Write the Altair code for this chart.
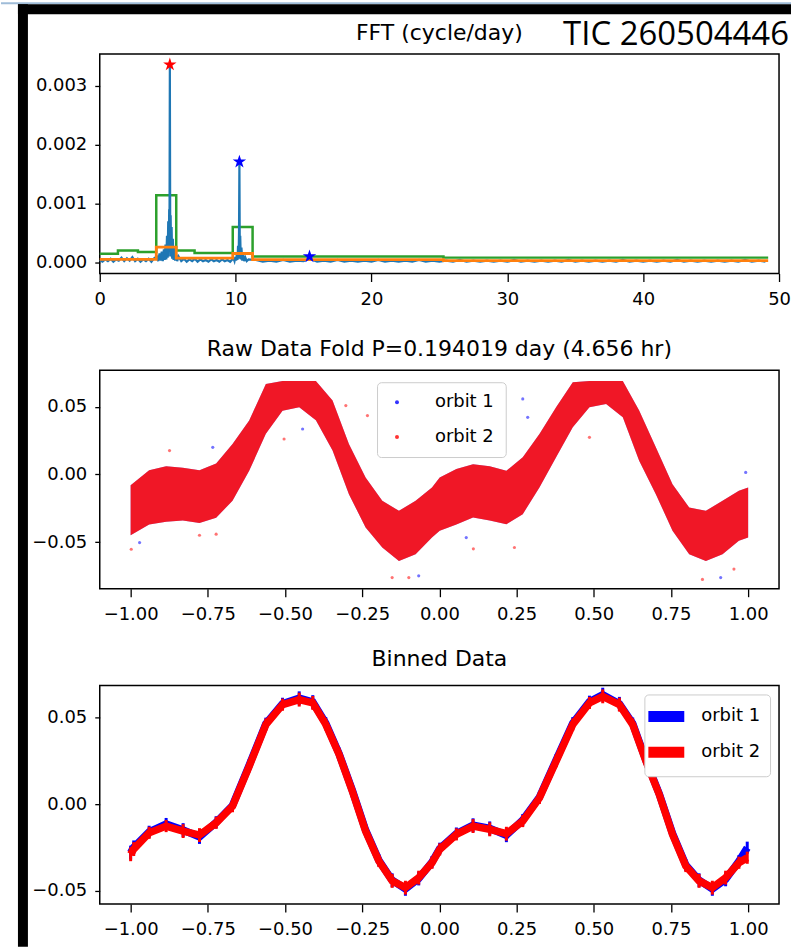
import altair as alt
import pandas as pd

# ---------------- FFT panel data ----------------
fft_freq = [0.0, 0.2, 0.4, 0.6, 0.8, 1.0, 1.2, 1.4, 1.6, 1.8, 2.0, 2.2, 2.4, 2.6, 2.8, 3.0, 3.2, 3.4, 3.6, 3.8, 4.0,
            4.20, 4.30, 4.40, 4.48, 4.56, 4.64, 4.72, 4.78, 4.84, 4.90, 4.95, 5.00, 5.04, 5.08, 5.11, 5.13, 5.16, 5.19,
            5.22, 5.25, 5.29, 5.33, 5.38, 5.43, 5.49, 5.55, 5.62, 5.70, 5.80,
            6.0, 6.2, 6.4, 6.6, 6.8, 7.0, 7.2, 7.4, 7.6, 7.8, 8.0, 8.2, 8.4, 8.6, 8.8, 9.0, 9.2, 9.4, 9.6, 9.8,
            9.86, 9.92, 9.98, 10.04, 10.09, 10.14, 10.18, 10.22, 10.25, 10.28, 10.31, 10.34, 10.38, 10.43, 10.49,
            10.56, 10.63, 10.72, 10.82, 10.95,
            11.5, 12.0, 12.5, 13.0, 13.5, 14.0, 14.5, 15.0, 15.45, 16.0, 16.5, 17.0, 17.5, 18.0, 18.5, 19.0, 19.5,
            20.0, 20.5, 21.0, 21.5, 22.0, 22.5, 23.0, 23.5, 24.0, 24.5, 25.0, 25.5, 26.0, 26.5, 27.0, 27.5, 28.0,
            28.5, 29.0, 29.5, 30.0, 30.5, 31.0, 31.5, 32.0, 32.5, 33.0, 33.5, 34.0, 34.5, 35.0, 35.5, 36.0, 36.5,
            37.0, 37.5, 38.0, 38.5, 39.0, 39.5, 40.0, 40.5, 41.0, 41.5, 42.0, 42.5, 43.0, 43.5, 44.0, 44.5, 45.0,
            45.5, 46.0, 46.5, 47.0, 47.5, 48.0, 48.5, 49.0]
fft_power = [4e-5, 1e-5, 5e-5, 2e-5, 6e-5, 1e-5, 5e-5, 3e-5, 8e-5, 2e-5, 7e-5, 3e-5, 9e-5, 2e-5, 6e-5, 1e-5, 5e-5,
             2e-5, 6e-5, 1e-5, 7e-5,
             1.0e-4, 2e-5, 1.5e-4, 3e-5, 1.8e-4, 2e-5, 2.2e-4, 4e-5, 3.0e-4, 5e-5, 4.5e-4, 8e-5, 7.0e-4, 1.0e-4,
             9.0e-4, 2.0e-4, 3.36e-3, 2.0e-4, 8.0e-4, 1.0e-4, 6.0e-4, 6e-5, 4.0e-4, 4e-5, 2.5e-4, 3e-5, 1.5e-4,
             2e-5, 1.0e-4,
             2e-5, 6e-5, 1e-5, 5e-5, 2e-5, 6e-5, 1e-5, 5e-5, 2e-5, 4e-5, 1e-5, 5e-5, 2e-5, 4e-5, 1e-5, 5e-5, 2e-5,
             4e-5, 1e-5, 6e-5,
             6e-5, 2e-5, 9e-5, 3e-5, 1.5e-4, 4e-5, 2.8e-4, 6e-5, 5.0e-4, 1.71e-3, 1.0e-4, 4.5e-4, 5e-5, 2.5e-4,
             3e-5, 1.4e-4, 2e-5, 8e-5, 2e-5, 5e-5,
             4e-5, 1e-5, 3e-5, 1e-5, 4e-5, 1e-5, 3e-5, 2e-5, 6e-5, 1e-5, 3e-5, 1e-5, 4e-5, 1e-5, 3e-5, 1e-5, 3e-5,
             1e-5, 4e-5, 1e-5, 3e-5, 1e-5, 3e-5, 1e-5, 4e-5, 1e-5, 3e-5, 1e-5, 3e-5, 1e-5, 4e-5, 1e-5, 3e-5, 1e-5,
             3e-5, 1e-5, 3e-5, 1e-5, 4e-5, 1e-5, 3e-5, 1e-5, 3e-5, 1e-5, 3e-5, 1e-5, 4e-5, 1e-5, 3e-5, 1e-5, 3e-5,
             1e-5, 3e-5, 1e-5, 4e-5, 1e-5, 3e-5, 1e-5, 3e-5, 1e-5, 3e-5, 1e-5, 4e-5, 1e-5, 3e-5, 1e-5, 3e-5, 1e-5,
             3e-5, 1e-5, 3e-5, 1e-5, 4e-5, 1e-5, 3e-5, 1e-5]

green_edges = [0.0, 1.34, 2.81, 4.16, 5.63, 6.98, 9.79, 11.25, 25.3, 49.2]
green_levels = [0.000147, 0.0002, 0.000175, 0.00114, 0.0002, 0.000158, 0.0006, 0.0001, 0.00008, 0.00008]
orange_edges = [0.0, 4.16, 5.63, 9.79, 11.25, 25.3, 49.2]
orange_levels = [0.00005, 0.00026, 0.00007, 0.00015, 0.000045, 0.00003, 0.00003]

star_freq = [5.16, 10.28, 15.44]
star_power = [0.00336, 0.00171, 0.0001]
star_kind = ["peak", "harmonic", "harmonic"]

# ---------------- Raw folded data ----------------
raw_phase = [-1.0, -0.94, -0.885, -0.831, -0.777, -0.723, -0.67, -0.616, -0.562, -0.508, -0.454, -0.4, -0.346,
             -0.293, -0.239, -0.185, -0.131, -0.077, -0.024, 0.001, 0.055, 0.109, 0.163, 0.217, 0.27, 0.324,
             0.378, 0.432, 0.486, 0.54, 0.594, 0.647, 0.701, 0.755, 0.809, 0.863, 0.917, 0.97, 1.0]
raw_lo = [-0.045, -0.037, -0.035, -0.034, -0.036, -0.032, -0.0195, 0.0027, 0.030, 0.047, 0.0496, 0.040, 0.0176,
          -0.0146, -0.0393, -0.0541, -0.064, -0.059, -0.0467, -0.0417, -0.037, -0.0319, -0.034, -0.0368, -0.0294,
          -0.0096, 0.0126, 0.0348, 0.0496, 0.052, 0.0422, 0.0101, -0.0146, -0.0417, -0.059, -0.064, -0.059,
          -0.0491, -0.0467]
raw_hi = [-0.008, 0.003, 0.006, 0.005, 0.003, 0.008, 0.0225, 0.0398, 0.0669, 0.069, 0.069, 0.069, 0.0546, 0.0225,
          -0.0022, -0.0195, -0.0269, -0.0195, -0.0096, -0.0022, 0.004, 0.0076, 0.006, 0.0027, 0.0126, 0.0299,
          0.0496, 0.0682, 0.069, 0.069, 0.069, 0.0472, 0.020, -0.0072, -0.0245, -0.0269, -0.0195, -0.0121, -0.0096]

out1_phase = [-0.971, -0.734, -0.443, -0.067, 0.087, 0.27, 0.286, 0.911, 0.992]
out1_val = [-0.0504, 0.020, 0.0336, -0.075, -0.0467, 0.0558, 0.0422, -0.0763, 0.0015]
out2_phase = [-0.998, -0.874, -0.777, -0.723, -0.503, -0.303, -0.233, -0.153, -0.099, 0.11, 0.243, 0.486, 0.852, 0.954]
out2_val = [-0.0553, 0.0176, -0.045, -0.0442, 0.0262, 0.0509, 0.0435, -0.0763, -0.0763, -0.055, -0.054, 0.0274,
            -0.0776, -0.070]

# ---------------- Binned data ----------------
bin_phase = [-1.0, -0.99, -0.94, -0.885, -0.83, -0.777, -0.723, -0.67, -0.616, -0.562, -0.508, -0.454, -0.41,
             -0.368, -0.325, -0.282, -0.239, -0.196, -0.153, -0.11, -0.067, -0.024, 0.001, 0.055, 0.109, 0.163,
             0.217, 0.27, 0.324, 0.378, 0.432, 0.486, 0.529, 0.583, 0.626, 0.669, 0.712, 0.755, 0.798, 0.841,
             0.884, 0.927, 0.97, 0.997]
bin_orbit1 = [-0.028, -0.025, -0.016, -0.0115, -0.0150, -0.0190, -0.0105, -0.0008, 0.0225, 0.0465, 0.0580, 0.0612,
              0.0590, 0.0468, 0.0292, 0.0080, -0.0150, -0.0325, -0.0440, -0.0490, -0.0430, -0.0335, -0.0258,
              -0.0170, -0.0122, -0.0140, -0.0180, -0.0092, 0.0040, 0.0255, 0.0468, 0.0592, 0.0633, 0.0580, 0.0466,
              0.0252, 0.0060, -0.0170, -0.0352, -0.0440, -0.0490, -0.0435, -0.0330, -0.0252]
bin_orbit2 = [-0.029, -0.026, -0.0166, -0.0127, -0.0156, -0.0179, -0.0108, -0.0012, 0.0219, 0.046, 0.0575, 0.0604,
              0.0585, 0.0461, 0.0288, 0.0075, -0.0156, -0.0329, -0.0444, -0.0483, -0.0425, -0.0339, -0.0262,
              -0.0175, -0.0127, -0.0146, -0.0171, -0.0098, 0.0036, 0.0248, 0.046, 0.0585, 0.0623, 0.0575, 0.046,
              0.0248, 0.0056, -0.0175, -0.0358, -0.0444, -0.0483, -0.0425, -0.0339, -0.031]
bin_err = [0.004, 0.004, 0.0035, 0.0035, 0.004, 0.004, 0.0035, 0.0035, 0.0035, 0.0035, 0.0035, 0.004, 0.004,
           0.0035, 0.0035, 0.0035, 0.0035, 0.0035, 0.004, 0.004, 0.004, 0.0035, 0.0035, 0.0035, 0.004, 0.004,
           0.004, 0.0035, 0.0035, 0.0035, 0.0035, 0.0035, 0.004, 0.004, 0.0035, 0.0035, 0.0035, 0.0035, 0.0035,
           0.004, 0.004, 0.004, 0.0035, 0.0035]

orbits = ["orbit 1", "orbit 2"]
orbit_colors = ["#0000ff", "#ff0000"]

fft_title = "FFT (cycle/day)"
tic_label = "TIC 260504446"

# ---------------- tables ----------------
fft_df = pd.DataFrame({"f": fft_freq, "p": fft_power})
green_df = pd.DataFrame({"f": green_edges, "p": green_levels})
orange_df = pd.DataFrame({"f": orange_edges, "p": orange_levels})
star_df = pd.DataFrame({"f": star_freq, "p": star_power, "k": star_kind})

band_df = pd.concat([
    pd.DataFrame({"phase": raw_phase, "lo": raw_lo, "hi": raw_hi, "orbit": o}) for o in orbits
], ignore_index=True)
out_df = pd.concat([
    pd.DataFrame({"phase": out1_phase, "val": out1_val, "orbit": "orbit 1"}),
    pd.DataFrame({"phase": out2_phase, "val": out2_val, "orbit": "orbit 2"}),
], ignore_index=True)
bin_df = pd.concat([
    pd.DataFrame({"phase": bin_phase, "val": bin_orbit1, "err": bin_err, "orbit": "orbit 1"}),
    pd.DataFrame({"phase": bin_phase, "val": bin_orbit2, "err": bin_err, "orbit": "orbit 2"}),
], ignore_index=True)
bin_df["lo"] = bin_df["val"] - bin_df["err"]
bin_df["hi"] = bin_df["val"] + bin_df["err"]

one = pd.DataFrame({"t": [tic_label], "title": [fft_title]})

W = 681
H1, H2, H3 = 220, 219, 219

# ---------------- Panel 1: FFT ----------------
fx = alt.X("f:Q", scale=alt.Scale(domain=[0, 50], nice=False, zero=False),
           axis=alt.Axis(values=[0, 10, 20, 30, 40, 50], format="d", title=None))
fy = alt.Y("p:Q", scale=alt.Scale(domain=[-0.00019, 0.00354], nice=False, zero=False),
           axis=alt.Axis(values=[0, 0.001, 0.002, 0.003], format=".3f", title=None))

frame_strip = alt.Chart(one).mark_rect(color="#9fbcd8").encode(
    x=alt.value(-99), x2=alt.value(693), y=alt.value(-52), y2=alt.value(-50))
frame_top = alt.Chart(one).mark_rect(color="black").encode(
    x=alt.value(-82), x2=alt.value(693), y=alt.value(-50), y2=alt.value(-40))
frame_left = alt.Chart(one).mark_rect(color="black").encode(
    x=alt.value(-82), x2=alt.value(-72), y=alt.value(-50), y2=alt.value(895))

green = alt.Chart(green_df).mark_line(color="#2ca02c", strokeWidth=2.5, interpolate="step-after").encode(x=fx, y=fy)
blue = alt.Chart(fft_df).mark_line(color="#1f77b4", strokeWidth=2.2).encode(x=fx, y=fy)
orange = alt.Chart(orange_df).mark_line(color="#ff7f0e", strokeWidth=2.8, interpolate="step-after").encode(x=fx, y=fy)
star_path = ("M0,-1L0.2245,-0.309L0.951,-0.309L0.3633,0.118L0.5878,0.809L0,0.382L-0.5878,0.809"
             "L-0.3633,0.118L-0.951,-0.309L-0.2245,-0.309Z")
stars = alt.Chart(star_df).mark_point(shape=star_path, filled=True, size=200, opacity=1).encode(
    x=fx, y=fy,
    color=alt.Color("k:N", scale=alt.Scale(domain=["peak", "harmonic"], range=["#ff0000", "#0000ff"]), legend=None))
tic = alt.Chart(one).mark_text(font="Open Sans", fontSize=33, align="right", baseline="alphabetic",
                               color="black").encode(x=alt.value(691), y=alt.value(-9), text="t:N")
fft_ttl = alt.Chart(one).mark_text(font="DejaVu Sans", fontSize=22, align="center", baseline="alphabetic",
                                   color="black").encode(x=alt.value(W / 2), y=alt.value(-14), text="title:N")

p1 = alt.layer(green, blue, orange, stars, tic, fft_ttl, frame_strip, frame_top, frame_left).properties(
    width=W, height=H1)

# ---------------- Panel 2: raw fold ----------------
px = alt.X("phase:Q", scale=alt.Scale(domain=[-1.1, 1.1], nice=False, zero=False),
           axis=alt.Axis(values=[-1, -0.75, -0.5, -0.25, 0, 0.25, 0.5, 0.75, 1], format=".2f", title=None))
ry = alt.Scale(domain=[-0.0845, 0.077], nice=False, zero=False)
raw_axis = alt.Axis(values=[-0.05, 0, 0.05], format=".2f", title=None)
raw_legend = alt.Legend(title=None, orient="none", legendX=278, legendY=12, direction="vertical",
                        fillColor="white", strokeColor="#cccccc", cornerRadius=4, padding=11,
                        labelFont="DejaVu Sans", labelFontSize=18, labelColor="black",
                        symbolType="circle", symbolSize=16, symbolOpacity=0.8, symbolStrokeWidth=0,
                        labelOffset=29, rowPadding=17)
rcolor = alt.Color("orbit:N", scale=alt.Scale(domain=orbits, range=orbit_colors), legend=raw_legend)

band1 = alt.Chart(band_df).transform_filter(alt.datum.orbit == "orbit 1").mark_area(opacity=0.4).encode(
    x=px, y=alt.Y("lo:Q", scale=ry, axis=raw_axis, stack=None), y2="hi:Q", color=rcolor)
band2 = alt.Chart(band_df).transform_filter(alt.datum.orbit == "orbit 2").mark_area(opacity=0.85).encode(
    x=px, y=alt.Y("lo:Q", scale=ry, axis=raw_axis, stack=None), y2="hi:Q", color=rcolor)
outl = alt.Chart(out_df).mark_circle(size=10, opacity=0.55).encode(
    x=px, y=alt.Y("val:Q", scale=ry, axis=raw_axis), color=rcolor)

p2 = alt.layer(band1, band2, outl).properties(
    width=W, height=H2, title="Raw Data Fold P=0.194019 day (4.656 hr)")

# ---------------- Panel 3: binned ----------------
by = alt.Scale(domain=[-0.0577, 0.0686], nice=False, zero=False)
bin_axis = alt.Axis(values=[-0.05, 0, 0.05], format=".2f", title=None)
handle = "M-1.5,-0.25H1.5V0.25H-1.5Z"
bin_legend = alt.Legend(title=None, orient="none", legendX=546, legendY=9, direction="vertical",
                        fillColor="white", strokeColor="#cccccc", cornerRadius=4, padding=9,
                        labelFont="DejaVu Sans", labelFontSize=18, labelColor="black",
                        symbolType=handle, symbolSize=400, symbolStrokeWidth=6, symbolOpacity=1,
                        labelOffset=22, rowPadding=6)
bcolor = alt.Color("orbit:N", scale=alt.Scale(domain=orbits, range=orbit_colors), legend=bin_legend)

lines = []
for o in orbits:
    base = alt.Chart(bin_df).transform_filter(alt.datum.orbit == o)
    lines.append(base.mark_line(strokeWidth=7.5).encode(
        x=px, y=alt.Y("val:Q", scale=by, axis=bin_axis), color=bcolor))
    lines.append(base.mark_rule(strokeWidth=3).encode(
        x=px, y=alt.Y("lo:Q", scale=by, axis=bin_axis), y2="hi:Q", color=bcolor))

p3 = alt.layer(*lines).properties(width=W, height=H3, title="Binned Data")

chart = (
    alt.vconcat(p1, p2, p3, spacing=97, bounds="flush")
    .resolve_scale(x="independent", y="independent", color="independent")
    .properties(padding={"left": 0, "top": 0, "right": 0, "bottom": 0}, background="white")
    .configure_view(stroke="black", strokeWidth=1.5)
    .configure_axis(domain=False, grid=False, tickColor="black", tickWidth=1.3, labelColor="black",
                    labelFont="DejaVu Sans", labelFontSize=18, labelFlush=False, labelOverlap=False)
    .configure_axisX(tickSize=8, labelPadding=9)
    .configure_axisY(tickSize=5, labelPadding=8)
    .configure_title(font="DejaVu Sans", fontSize=22, fontWeight="normal", color="black", anchor="middle",
                     baseline="bottom", offset=9)
)

chart.save("out.html", embed_options={"renderer": "svg", "actions": False})
